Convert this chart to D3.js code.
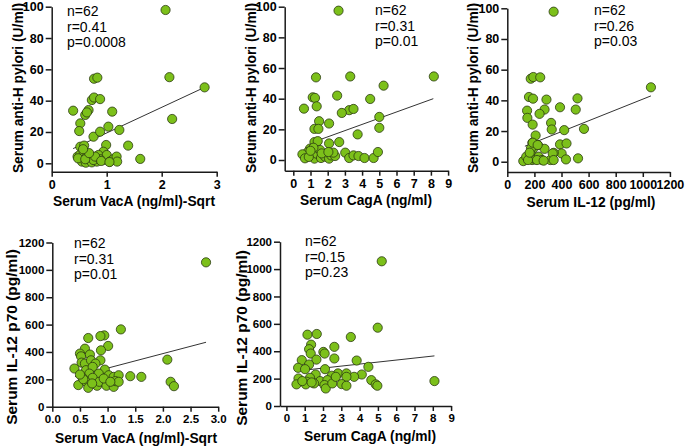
<!DOCTYPE html>
<html>
<head>
<meta charset="utf-8">
<script src="https://cdn.jsdelivr.net/npm/d3@7/dist/d3.min.js"></script>
<style>
  html, body { margin: 0; padding: 0; background: #fff; }
  svg { display: block; }
  text { font-family: "Liberation Sans", Arial, sans-serif; }
</style>
</head>
<body>
<svg id="chart" width="685" height="448"></svg>
<script>
// ---------------- DATA ----------------
// Panel 1: VacA (sqrt) vs anti-H pylori
const p1VacA = [2.07,2.14,2.78,2.19,0.77,0.83,0.39,0.67,0.61,0.64,0.73,0.77,0.88,0.52,0.50,0.76,0.88,1.10,1.03,1.23,1.39,1.61,0.99,0.52,0.59,0.94,0.47,0.52,0.58,0.65,0.67,0.55,0.62,0.73,0.82,0.85,0.94,1.00,1.06,1.12,1.18,1.19,0.70,0.76,0.88,0.48,0.61,0.79,0.90,1.05,0.68,0.57];
const p1AntiH = [97.9,55,48.5,28.3,54,54.7,33.6,34,30.9,32.5,40.4,42,41,25.5,20.6,17,20.2,33,23.4,21.3,11.3,2.8,11.7,10.6,11.3,7.4,4.3,5.7,7.4,5.3,3.2,1.1,0.4,0.6,1.1,5.3,2.1,5.3,1.1,2.6,4.3,1.1,4.3,2.1,2.6,3.2,2.6,4.3,1.5,0.8,6.5,9.0];
const fit1X = [0.39, 2.78];
const fit1Y = [9.4, 48.5];

// Panel 2: CagA vs anti-H pylori
const p2CagA = [2.63,1.32,3.31,8.17,5.25,1.13,1.26,2.55,4.47,0.62,1.36,3.25,3.5,2.82,5.0,1.5,1.23,1.46,2.08,5.0,3.74,1.23,1.42,2.08,2.67,0.97,0.84,0.53,0.68,1.07,1.23,1.36,1.61,1.75,1.85,2.08,2.2,2.43,2.33,3.02,3.25,3.5,3.79,4.14,4.67,4.92,1.56,1.17,1.65,2.04,0.9,1.0];
const p2AntiH = [97.4,53.9,54.5,54.5,48.5,40.9,40.5,42,39.8,33.5,35,32.5,33.3,30.7,28.1,25.3,20.3,20.3,23.8,21,16.7,11.7,12.3,10.8,11.7,7.4,5.2,3.7,1.1,2.6,0.9,4.1,1.3,3.7,2.2,0.9,3,2.6,4.8,4.8,1.3,3,2.6,1.3,1.3,5.2,6.5,8,4.3,5.2,2,6];
const fit2X = [1.16, 8.14];
const fit2Y = [11.7, 40.0];

// Panel 3: IL-12 vs anti-H pylori
const p3IL12 = [342,1060,173,192,243,160,190,289,518,146,275,389,505,148,238,187,323,328,420,566,209,185,226,389,437,275,190,401,343,118,140,171,183,207,232,256,318,335,342,433,522,175,188,224,153,219,268,165];
const p3AntiH = [97.8,48.5,54.1,55.2,55,42.2,41.1,40.5,41.3,33.3,34,35.5,34,28.6,31.2,24.2,25.3,21,20.6,21.4,17.1,12.3,10.8,11.3,11.9,8.4,8.4,5.4,5.8,0.4,3.3,5.4,1.1,1.5,3.3,1.1,1.1,5.4,1.1,1.5,2.2,8.7,12.4,10.9,1.1,1.1,0.7,5.9];
const fit3X = [130, 1060];
const fit3Y = [10.1, 42.9];

// Panel 4: VacA (sqrt) vs IL-12 p70
const p4VacA = [2.78,2.08,2.14,2.2,1.61,1.41,1.24,0.94,0.87,0.65,1.01,0.88,0.59,0.5,0.52,0.68,0.87,0.4,0.53,0.59,0.7,0.78,0.61,0.73,0.95,0.67,0.84,0.55,0.73,1.02,1.11,1.2,0.47,0.61,0.65,0.81,0.85,0.98,1.11,1.14,1.2,0.56,0.72,0.93,1.05,0.5];
const p4IL12 = [1055,344,182,150,218,223,565,521,516,502,444,412,424,388,368,381,339,279,322,315,339,315,267,291,271,242,242,211,211,230,218,230,158,182,138,153,182,153,145,187,182,201,170,206,182,235];
const fit4X = [0.41, 2.78];
const fit4Y = [219, 471];

// Panel 5: CagA vs IL-12 p70
const p5CagA = [5.21,4.99,3.52,1.15,1.66,1.35,1.24,1.33,2.02,2.09,2.62,2.62,0.84,1.64,3.84,1.24,4.48,0.64,1.02,2.11,2.82,3.28,4.12,1.6,2.48,3.7,3.28,1.29,0.66,1.11,1.84,2.24,4.64,0.55,1.06,1.51,2.08,2.15,2.51,3.02,3.28,4.88,4.97,8.09,0.87,1.38,2.7];
const p5IL12 = [1057,572,504,521,526,448,415,383,395,383,432,347,335,339,332,303,286,279,269,269,238,238,230,230,221,213,213,206,201,177,182,189,189,158,158,165,153,128,165,160,148,158,148,182,182,172,213];
const fit5X = [1.06, 8.09];
const fit5Y = [263, 366];

// Tick labels
const vacaTicks = [0, 1, 2, 3];
const vacaTicksFine = [0, 0.5, 1, 1.5, 2, 2.5, 3];
const cagaTicks = [0, 1, 2, 3, 4, 5, 6, 7, 8, 9];
const il12XTicks = [0, 200, 400, 600, 800, 1000, 1200];
const antiHTicks = [0, 20, 40, 60, 80, 100];
const il12YTicks = [0, 200, 400, 600, 800, 1000, 1200];

// Titles and stats
const titleAntiH = "Serum anti-H pylori (U/ml)";
const titleIL12p70 = "Serum IL-12 p70 (pg/ml)";
const titleVacA = "Serum VacA (ng/ml)-Sqrt";
const titleCagA = "Serum CagA (ng/ml)";
const titleIL12 = "Serum IL-12 (pg/ml)";
const stats1 = ["n=62", "r=0.41", "p=0.0008"];
const stats2 = ["n=62", "r=0.31", "p=0.01"];
const stats3 = ["n=62", "r=0.26", "p=0.03"];
const stats4 = ["n=62", "r=0.31", "p=0.01"];
const stats5 = ["n=62", "r=0.15", "p=0.23"];

// ---------------- LAYOUT ----------------
const fmtInt = d3.format("d");
const fmt1 = d3.format(".1f");
const panels = [
  { xs: p1VacA, ys: p1AntiH, fx: fit1X, fy: fit1Y,
    xDom: [0, 3], xRange: [51.7, 216.7], xTicks: vacaTicks, xFmt: fmtInt,
    yDom: [-5.36, 100], yRange: [171.7, 6.7], yTicks: antiHTicks,
    xTitle: titleVacA, yTitle: titleAntiH, stats: stats1, tickFs: 12.5, yTitleFs: 13.8,
    ann: [67, 16], xt: [134, 206], yt: [18, 88] },
  { xs: p2CagA, ys: p2AntiH, fx: fit2X, fy: fit2Y,
    xDom: [-0.5, 9], xRange: [284.7, 448.1], xTicks: cagaTicks, xFmt: fmtInt,
    yDom: [-6.98, 100], yRange: [170.7, 6.7], yTicks: antiHTicks,
    xTitle: titleCagA, yTitle: titleAntiH, stats: stats2, tickFs: 12.5, yTitleFs: 13.8,
    ann: [375, 15], xt: [366, 205], yt: [251, 88] },
  { xs: p3IL12, ys: p3AntiH, fx: fit3X, fy: fit3Y,
    xDom: [0, 1200], xRange: [507.3, 669.9], xTicks: il12XTicks, xFmt: fmtInt,
    yDom: [-6.7, 100], yRange: [172, 8.3], yTicks: antiHTicks,
    xTitle: titleIL12, yTitle: titleAntiH, stats: stats3, tickFs: 12.5, yTitleFs: 13.8,
    ann: [594, 15], xt: [591, 207], yt: [473, 88] },
  { xs: p4VacA, ys: p4IL12, fx: fit4X, fy: fit4Y,
    xDom: [0, 3], xRange: [52.3, 218.2], xTicks: vacaTicksFine, xFmt: fmt1,
    yDom: [0, 1200], yRange: [406.7, 242.5], yTicks: il12YTicks,
    xTitle: titleVacA, yTitle: titleIL12p70, stats: stats4, tickFs: 11.5, yTitleFs: 15.5,
    ann: [74, 248], xt: [136, 443], yt: [12, 337] },
  { xs: p5CagA, ys: p5IL12, fx: fit5X, fy: fit5Y,
    xDom: [-0.35, 9], xRange: [280, 451.1], xTicks: cagaTicks, xFmt: fmtInt,
    yDom: [0, 1200], yRange: [406, 241.7], yTicks: il12YTicks,
    xTitle: titleCagA, yTitle: titleIL12p70, stats: stats5, tickFs: 11.5, yTitleFs: 15.5,
    ann: [305, 246], xt: [370, 441], yt: [242, 338] }
];

const svg = d3.select("#chart");
const axisColor = "#1a1a1a";

panels.forEach(p => {
  const x = d3.scaleLinear().domain(p.xDom).range(p.xRange);
  const y = d3.scaleLinear().domain(p.yDom).range(p.yRange);
  const g = svg.append("g");

  // X axis
  const xAxis = g.append("g")
    .attr("transform", `translate(0,${p.yRange[0]})`)
    .call(d3.axisBottom(x).tickValues(p.xTicks).tickFormat(p.xFmt)
      .tickSizeOuter(0).tickSizeInner(5).tickPadding(3));
  // Y axis
  const yAxis = g.append("g")
    .attr("transform", `translate(${p.xRange[0]},0)`)
    .call(d3.axisLeft(y).tickValues(p.yTicks).tickFormat(fmtInt)
      .tickSizeOuter(0).tickSizeInner(6).tickPadding(2));

  [xAxis, yAxis].forEach(a => {
    a.select(".domain").attr("stroke", axisColor).attr("stroke-width", 1.5);
    a.selectAll(".tick line").attr("stroke", axisColor).attr("stroke-width", 1.5);
    a.selectAll(".tick text")
      .attr("fill", "#000")
      .style("font-family", '"Liberation Sans", Arial, sans-serif')
      .style("font-size", p.tickFs + "px")
      .style("font-weight", "bold");
  });

  // Regression line
  const fitPts = p.fx.map((v, i) => [v, p.fy[i]]);
  g.append("path")
    .datum(fitPts)
    .attr("d", d3.line().x(d => x(d[0])).y(d => y(d[1])))
    .attr("fill", "none")
    .attr("stroke", "#333")
    .attr("stroke-width", 1);

  // Points
  const pts = p.xs.map((v, i) => [v, p.ys[i]]);
  g.selectAll("circle.pt")
    .data(pts)
    .join("circle")
    .attr("class", "pt")
    .attr("cx", d => x(d[0]))
    .attr("cy", d => y(d[1]))
    .attr("r", 4.6)
    .attr("fill", "#7cc01a")
    .attr("stroke", "#2b3a12")
    .attr("stroke-width", 0.8);

  // Stats annotation
  g.selectAll("text.stat")
    .data(p.stats)
    .join("text")
    .attr("class", "stat")
    .attr("x", p.ann[0])
    .attr("y", (d, i) => p.ann[1] + i * 15.5)
    .style("font-size", "14px")
    .attr("fill", "#000")
    .text(d => d);

  // X title
  g.append("text")
    .attr("x", p.xt[0]).attr("y", p.xt[1])
    .attr("text-anchor", "middle")
    .style("font-size", "13.8px").style("font-weight", "bold")
    .attr("fill", "#000")
    .text(p.xTitle);

  // Y title
  g.append("text")
    .attr("transform", `translate(${p.yt[0]},${p.yt[1]}) rotate(-90)`)
    .attr("text-anchor", "middle")
    .attr("dy", "0.35em")
    .style("font-size", p.yTitleFs + "px").style("font-weight", "bold")
    .attr("fill", "#000")
    .text(p.yTitle);
});
</script>
</body>
</html>
